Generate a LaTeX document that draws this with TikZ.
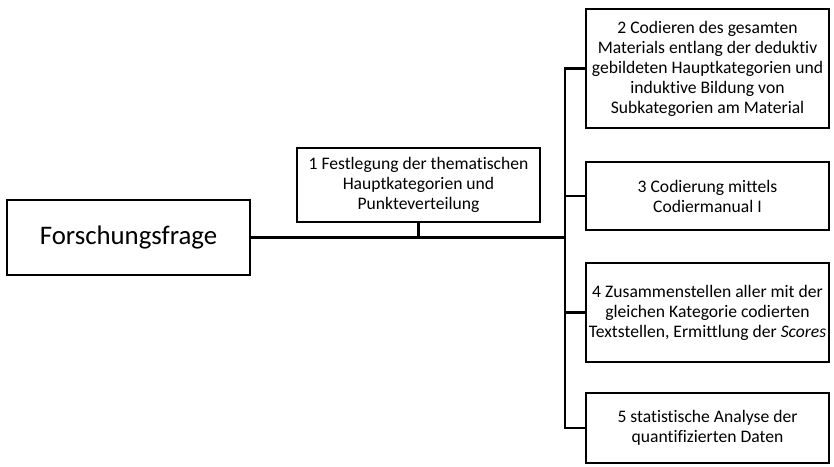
\documentclass[tikz,border=0pt]{standalone}
\usepackage{fontspec}
\setmainfont{Carlito}[Ligatures=NoCommon]
\begin{document}
\begin{tikzpicture}[x=1pt,y=-1pt,line width=2.8pt,line cap=rect,
    kasten/.style={draw,line width=2.8pt,align=center,minimum width=243pt,inner xsep=0pt,inner ysep=2pt,font=\fontsize{17.6}{20}\selectfont}]
                \useasboundingbox (0,0) rectangle (834,466);
                \node[kasten,minimum height=75pt,font=\fontsize{26.8}{30}\selectfont](F) at (128.5,237.5) {Forschungsfrage};
                \node[kasten,minimum height=74pt](S1) at (418.5,185) {1 Festlegung der thematischen\\Hauptkategorien und\\Punkteverteilung};
                \node[kasten,minimum height=119pt](S2) at (707.5,68.5) {2 Codieren des gesamten\\Materials entlang der deduktiv\\gebildeten Hauptkategorien und\\induktive Bildung von\\Subkategorien am Material};
                \node[kasten,minimum height=68pt](S3) at (707.5,196) {3 Codierung mittels\\Codiermanual I};
                \node[kasten,minimum height=99pt](S4) at (707.5,312.5) {4 Zusammenstellen aller mit der\\gleichen Kategorie codierten\\Textstellen, Ermittlung der \textit{Scores}};
                \node[kasten,minimum height=70pt](S5) at (707.5,428) {5 statistische Analyse der\\quantifizierten Daten};
                \coordinate (J) at (565,237.5);
                \draw (F.east) -- (J);
                \draw (S1.south) -- (S1.south |- J);
                \draw (S2.west -| J) -- (S5.west -| J);
                \foreach \s in {S2,S3,S4,S5}
                    \draw (\s.west) -- (\s.west -| J);
            \end{tikzpicture}
\end{document}
